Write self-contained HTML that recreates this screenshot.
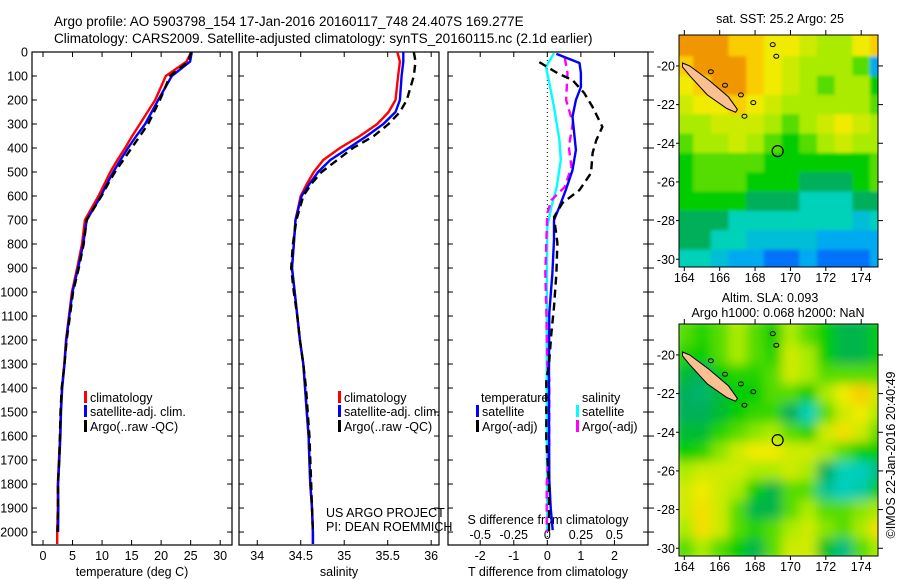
<!DOCTYPE html>
<html><head><meta charset="utf-8"><style>
body{margin:0;background:#fff}
svg{display:block;font-family:"Liberation Sans",sans-serif}
text{fill:#000}
</style></head><body>
<svg id="fig" width="900" height="580" viewBox="0 0 900 580">
<defs>
<clipPath id="c1"><rect x="679" y="35" width="199" height="232"/></clipPath>
<clipPath id="c2"><rect x="679" y="324" width="199" height="232"/></clipPath>
<filter id="b1" x="0" y="0" width="1" height="1"><feGaussianBlur stdDeviation="1.5" edgeMode="duplicate"/></filter>
<filter id="b2" x="0" y="0" width="1" height="1"><feGaussianBlur stdDeviation="5.5" edgeMode="duplicate"/></filter>
</defs>
<text x="54" y="26" font-size="13.5">Argo profile: AO 5903798_154 17-Jan-2016 20160117_748 24.407S 169.277E</text>
<text x="54" y="43" font-size="13.5">Climatology: CARS2009. Satellite-adjusted climatology: synTS_20160115.nc (2.1d earlier)</text>
<g id="g"></g>
</svg>
<script>
// ---- profile data ----
const depthP = [0,40,100,200,250,300,350,400,450,500,550,600,700,800,900,1000,1100,1200,1300,1400,1500,1600,1700,1800,1900,2000,2050];
const tClim = [25.1,24.3,20.8,19.0,17.7,16.4,15.1,13.9,12.6,11.4,10.4,9.4,7.1,6.6,5.8,4.9,4.4,3.9,3.6,3.2,3.0,2.9,2.7,2.5,2.5,2.4,2.4];
const tSat  = [25.2,24.9,21.8,19.5,18.4,17.3,15.8,14.4,13.1,11.9,10.8,9.8,7.4,6.8,5.95,5.0,4.46,3.95,3.65,3.25,3.05,2.95,2.76,2.56,2.6,2.56];
const tArgo = [25.1,24.6,21.5,19.8,18.8,17.8,16.4,15.0,13.6,12.2,11.0,9.9,7.4,6.9,6.07,5.1,4.55,4.02,3.65,3.17,2.97,2.87,2.75,2.55,2.55,2.45];
const sClim = [35.61,35.64,35.62,35.59,35.51,35.38,35.18,34.95,34.76,34.65,34.57,34.5,34.44,34.42,34.40,34.43,34.46,34.49,34.53,34.55,34.57,34.59,34.60,34.61,34.63,34.64,34.64];
const sSat  = [35.68,35.68,35.66,35.64,35.59,35.45,35.26,35.05,34.84,34.7,34.6,34.51,34.44,34.42,34.40,34.43,34.46,34.49,34.53,34.55,34.57,34.59,34.60,34.61,34.63,34.64,34.64];
const sArgo = [35.8,35.82,35.8,35.72,35.64,35.51,35.34,35.1,34.92,34.74,34.62,34.53,34.45,34.41,34.39,34.42,34.46,34.49,34.53,34.56,34.58,34.6,34.61,34.62,34.63,34.64];
// ---- difference data ----
const dDepthTSat = [8,46,88,146,200,270,408,492,575,645,700,783,921,1087,1300,1500,1783,1900,1992];
const dTSat = [0.27,0.96,1.0,1.0,0.85,0.75,0.85,0.75,0.55,0.36,0.2,0.2,0.15,0.06,0.05,0.05,0.06,0.1,0.16];
const dDepthTArgo = [42,88,117,171,229,312,367,421,504,575,629,688,796,921,1062,1171,1300,1367,1617,1800,2000];
const dTArgo = [-0.24,0.3,0.75,1.1,1.35,1.64,1.46,1.35,1.3,0.96,0.45,0.2,0.3,0.27,0.2,0.12,0.05,-0.03,-0.03,0.05,0.05];
const dDepthSSat = [5,62,129,229,367,450,562,645,729,921,1200,1600,2000];
const dSSat = [0.05,-0.01,0.015,0.05,0.09,0.1,0.07,0.03,0.0,-0.003,-0.005,-0.004,0.0];
const dDepthSArgo = [25,88,200,296,396,479,562,617,671,921,1075,1300,1367,1617,1800,2000];
const dSArgo = [0.13,0.15,0.14,0.19,0.16,0.18,0.13,0.03,0.0,-0.015,-0.008,0.0,0.015,0.015,-0.005,-0.005];
// ---- tick labels ----
const depthTicks = [0,100,200,300,400,500,600,700,800,900,1000,1100,1200,1300,1400,1500,1600,1700,1800,1900,2000];
const tTicks = [0,5,10,15,20,25,30];
const sTicks = ["34","34.5","35","35.5","36"];
const dTTicks = [-2,-1,0,1,2];
const dSTicks = ["-0.5","-0.25","0","0.25","0.5"];
// ---- map data (index into colour scale) ----
const mapLons = [164,165,166,167,168,169,170,171,172,173,174,175];
const mapLats = [-19,-20,-21,-22,-23,-24,-25,-26,-27,-28,-29,-30];
const sstGrid = [
[7,7,7,6.5,6.5,6,6,5.5,5,5,6,6.5],
[6.5,7,7,7,6.5,6,5.5,5,5,5,4.5,2],
[6,6.5,7,7,6.5,6,5.5,5,4.5,5,5,4],
[5.5,6,6,6.5,6,5.5,5,5,5,5,5,4.5],
[5,5,5.5,5.5,5.5,5,4.5,5,5.5,6,5.5,5],
[4.5,5,5,5.5,5,4.5,4,4.5,5,5.5,5,5],
[4,4.5,4.5,4.5,4.5,4,4,4,4,4,4,4.5],
[4,4.5,4.5,4.5,4,4,4,3.5,3.5,3.5,4,4.5],
[4,4,4,4,3.5,3.5,3.5,3,3,3,3.5,3.5],
[3.5,3.5,3.5,3,3,3,3,3,3,3,2.5,3],
[3.5,3.5,3,3,2.5,2.5,2.5,2.5,2,2,2,2],
[3,3,2.5,2,2,1.5,1.5,2,1.5,1.5,1.5,2]];
const slaGrid = [
[4.5,4.2,4.5,5,4.5,4,5,4.5,4,3.6,3.6,4],
[4.2,4,4.5,5,4.5,4.2,5.5,5,4,3.6,3.6,4],
[3.7,3.5,4,4.2,4.2,4.5,5.5,5,4.5,4.5,4.5,4.5],
[3.5,3.4,3.7,4,4,4.5,4.5,4,5,6,6.5,5.5],
[3.5,3.5,3.7,4,4.3,4.3,3.5,3.0,4.5,5.5,6,5],
[3.7,3.7,4.2,4.5,4.8,5,4.5,4.2,5.5,6.2,5.5,4.5],
[4,4.2,4.8,5.5,6,6,5.5,5.5,5,4.5,4,4],
[5,5.5,5.5,5.5,5,5,5.5,5,3.5,3.0,2.9,3.3],
[5.5,6,5.5,5,4,3.6,4.5,4.5,3.2,2.9,3.1,4],
[5.5,6.2,5.5,4.5,3.6,3.6,4.5,5,4.5,4.5,4.8,5],
[5,6.2,5.5,4.5,4.2,4.5,5,5.5,4.8,4.5,5,6.2],
[4.5,5,4.5,4,3.6,4.5,5.5,5.5,3.8,3.3,4.5,5]];
const lonTicks = [164,166,168,170,172,174];
const latTicks = [-20,-22,-24,-26,-28,-30];
const argoLon = 169.277, argoLat = -24.407;

const NS="http://www.w3.org/2000/svg";
const G=document.getElementById('g');
function mk(tag,attrs,parent){const e=document.createElementNS(NS,tag);for(const k in attrs)e.setAttribute(k,attrs[k]);(parent||G).appendChild(e);return e;}
function txt(x,y,s,size,anchor,parent){const e=mk('text',{x:x,y:y,'font-size':size,'text-anchor':anchor||'start'},parent);e.textContent=s;return e;}

const yTop=52,yBot=545,dMax=2054;
const yD=d=>yTop+(d/dMax)*(yBot-yTop);
const panels=[
 {x0:32,x1:232,v0:-1.86,v1:32},
 {x0:239,x1:439,v0:33.79,v1:36.09},
 {x0:448,x1:648,v0:-2.96,v1:3.0}];
const xP=(p,v)=>p.x0+(v-p.v0)/(p.v1-p.v0)*(p.x1-p.x0);

function line(p,vals,depths,color,dash,name,scale){
  const pts=[];for(let i=0;i<vals.length&&i<depths.length;i++)pts.push(xP(p,vals[i]*(scale||1)).toFixed(1)+','+yD(depths[i]).toFixed(1));
  const e=mk('polyline',{points:pts.join(' '),fill:'none',stroke:color,'stroke-width':2.4,'stroke-dasharray':dash||'none','stroke-linejoin':'round'});
  
  
}
panels.forEach((p,i)=>{
  const f=mk('rect',{x:p.x0,y:yTop,width:p.x1-p.x0,height:yBot-yTop,fill:'none',stroke:'#000','stroke-width':1.2});
  
  
  depthTicks.forEach(d=>{mk('line',{x1:p.x0,x2:p.x0+5,y1:yD(d),y2:yD(d),stroke:'#000'});
    mk('line',{x1:p.x1,x2:p.x1-5,y1:yD(d),y2:yD(d),stroke:'#000'});
    if(i==2)mk('line',{x1:p.x1,x2:p.x1+6,y1:yD(d),y2:yD(d),stroke:'#000'});});
});
depthTicks.forEach(d=>{const t=txt(28,yD(d)+4.5,String(d),12.5,'end');
  
  });
const p1=panels[0],p2=panels[1],p3=panels[2];
tTicks.forEach(v=>{const x=xP(p1,v);mk('line',{x1:x,x2:x,y1:yBot,y2:yBot-5,stroke:'#000'});mk('line',{x1:x,x2:x,y1:yTop,y2:yTop+5,stroke:'#000'});
  const t=txt(x,560,String(v),12.5,'middle');});
sTicks.forEach(v=>{const x=xP(p2,+v);mk('line',{x1:x,x2:x,y1:yBot,y2:yBot-5,stroke:'#000'});mk('line',{x1:x,x2:x,y1:yTop,y2:yTop+5,stroke:'#000'});
  const t=txt(x,560,v,12.5,'middle');});
dTTicks.forEach(v=>{const x=xP(p3,v);mk('line',{x1:x,x2:x,y1:yBot,y2:yBot-5,stroke:'#000'});mk('line',{x1:x,x2:x,y1:yTop,y2:yTop+5,stroke:'#000'});
  const t=txt(x,560,String(v),12.5,'middle');});
dSTicks.forEach(v=>{const x=xP(p3,(+v)*4);const t=txt(x,539,v,12.5,'middle');});
let t;
t=txt(132,576,'temperature (deg C)',12.5,'middle');
t=txt(339,576,'salinity',12.5,'middle');
t=txt(548,576,'T difference from climatology',12.5,'middle');
t=txt(548,524,'S difference from climatology',12.5,'middle');
t=txt(326,517,'US ARGO PROJECT',12.5);
t=txt(326,531,'PI: DEAN ROEMMICH',12.5);
const zl=mk('line',{x1:xP(p3,0),x2:xP(p3,0),y1:yTop,y2:yBot,stroke:'#000','stroke-dasharray':'1,3'});

line(p1,tClim,depthP,'#f00','', 'temperature-climatology-line');
line(p1,tSat,depthP,'#00f','', 'temperature-satellite-line');
line(p1,tArgo,depthP,'#000','8,5','temperature-argo-line');
line(p2,sClim,depthP,'#f00','', 'salinity-climatology-line');
line(p2,sSat,depthP,'#00f','', 'salinity-satellite-line');
line(p2,sArgo,depthP,'#000','8,5','salinity-argo-line');
line(p3,dSSat,dDepthSSat,'#0ff','', 's-diff-satellite-line',4);
line(p3,dSArgo,dDepthSArgo,'#f0f','8,5','s-diff-argo-line',4);
line(p3,dTSat,dDepthTSat,'#00f','', 't-diff-satellite-line');
line(p3,dTArgo,dDepthTArgo,'#000','8,5','t-diff-argo-line');
function leg(x,y,color,label,name){mk('rect',{x:x-6,y:y-11,width:3,height:12,fill:color});
  const e=txt(x,y,label,12.5);}
leg(90,402,'#f00','climatology','legend-climatology');
leg(90,416,'#00f','satellite-adj. clim.','legend-satellite');
leg(90,431,'#000','Argo(..raw -QC)','legend-argo');
leg(344,402,'#f00','climatology','legend-climatology-2');
leg(344,416,'#00f','satellite-adj. clim.','legend-satellite-2');
leg(344,431,'#000','Argo(..raw -QC)','legend-argo-2');
t=txt(481,402,'temperature',12.5);
leg(482,416,'#00f','satellite','legend-t-satellite');
leg(482,431,'#000','Argo(-adj)','legend-t-argo');
t=txt(582,402,'salinity',12.5);
leg(582,416,'#0ff','satellite','legend-s-satellite');
leg(582,431,'#f0f','Argo(-adj)','legend-s-argo');

// ---- maps ----
const stops=[[0,[0,0,140]],[1,[0,60,255]],[2,[0,170,240]],[3,[0,210,185]],[3.5,[0,175,90]],[4,[0,205,0]],[5,[170,235,0]],[6,[240,235,0]],[6.5,[250,205,0]],[7,[240,150,0]]];
function cmap(v){for(let i=1;i<stops.length;i++){if(v<=stops[i][0]){const a=stops[i-1],b=stops[i];const f=(v-a[0])/(b[0]-a[0]);
  return 'rgb('+a[1].map((c,j)=>Math.round(c+(b[1][j]-c)*f)).join(',')+')';}}return 'rgb(240,150,0)';}
function drawMap(top,grid,clip,filt,name){
  const L=679,R=878,B=top+232;
  const xL=lon=>L+(lon-163.7)/(174.95-163.7)*(R-L);
  const yL=lat=>top+(-18.4-lat)/(30.4-18.4)*(B-top);
  const outer=mk('g',{'clip-path':'url(#'+clip+')'});
  
  
  const g=mk('g',{filter:'url(#'+filt+')'},outer);
  mapLats.forEach((lat,r)=>mapLons.forEach((lon,c)=>{
    const y0=r==0?top-6:yL(lat+0.5), y1=r==mapLats.length-1?B+6:yL(lat-0.5);
    const x0=c==0?L-6:xL(lon-0.5), x1=xL(lon+0.5);
    const cell=mk('rect',{x:x0,y:y0,width:x1-x0+0.6,height:y1-y0+0.6,fill:cmap(grid[r][c])},g);
    
    
  }));
  const nc=[[163.9,-19.85],[164.3,-20.0],[165.4,-20.75],[166.5,-21.6],[167.0,-22.25],[166.9,-22.4],[166.4,-22.2],[165.3,-21.5],[164.3,-20.5],[163.9,-20.05]];
  const land=mk('polygon',{points:nc.map(p=>xL(p[0]).toFixed(1)+','+yL(p[1]).toFixed(1)).join(' '),fill:'#fcbf8f',stroke:'#000','stroke-width':1},outer);
  
  [[165.5,-20.3],[166.3,-21.0],[167.2,-21.5],[167.9,-21.9],[169.0,-18.9],[169.2,-19.5],[167.4,-22.6]].forEach(p=>{
    mk('ellipse',{cx:xL(p[0]),cy:yL(p[1]),rx:2.5,ry:2,fill:'none',stroke:'#000','stroke-width':1},outer);});
  const mark=mk('circle',{cx:xL(argoLon),cy:yL(argoLat),r:5.5,fill:'none',stroke:'#000','stroke-width':1.2});
  
  mk('rect',{x:L,y:top,width:R-L,height:B-top,fill:'none',stroke:'#000','stroke-width':1});
  lonTicks.forEach(v=>{const x=xL(v);mk('line',{x1:x,x2:x,y1:top,y2:top-5,stroke:'#000'});mk('line',{x1:x,x2:x,y1:B,y2:B+4,stroke:'#000'});
    const tt=txt(x,B+15,String(v),12.5,'middle');});
  latTicks.forEach(v=>{const y=yL(v);mk('line',{x1:R,x2:R+5,y1:y,y2:y,stroke:'#000'});mk('line',{x1:L,x2:L-3,y1:y,y2:y,stroke:'#000'});
    const tt=txt(L-4,y+4.5,String(v),12.5,'end');});
}
drawMap(35,sstGrid,'c1','b1','sst-map');
drawMap(324,slaGrid,'c2','b2','sla-map');
t=txt(780,23,'sat. SST: 25.2 Argo: 25',12.5,'middle');
t=txt(770,302,'Altim. SLA: 0.093',12.5,'middle');
t=txt(778,317,'Argo h1000: 0.068 h2000: NaN',12.5,'middle');
t=txt(0,0,'©IMOS 22-Jan-2016 20:40:49',12.5,'middle');t.setAttribute('transform','translate(895,455) rotate(-90)');

</script>
</body></html>
